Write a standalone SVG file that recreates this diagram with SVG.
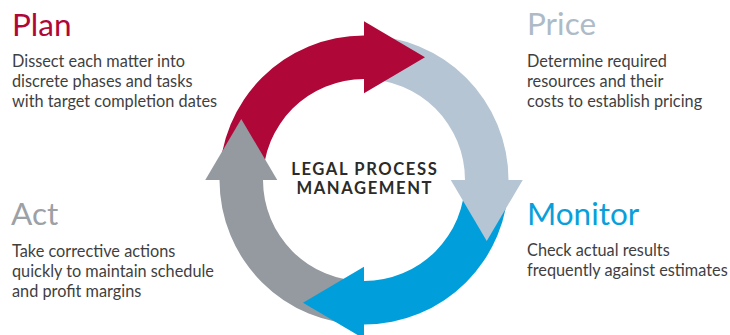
<svg xmlns="http://www.w3.org/2000/svg" width="730" height="335" viewBox="0 0 730 335">
  <style>
    .title { font-family: Lato, "Open Sans", "Liberation Sans", sans-serif; font-size: 31.5px; }
    .body { font-family: Lato, "Open Sans", "Liberation Sans", sans-serif; font-size: 16.3px; fill: #3f3f3f; }
    .center { font-family: Lato, "Open Sans", "Liberation Sans", sans-serif; font-size: 16.6px; font-weight: bold; fill: #2b2b2b; letter-spacing: 1.6px; }
    .red { fill: #af0738; }
    .pale { fill: #b6c5d3; }
    .blue { fill: #009fdb; }
    .grey { fill: #949aa0; }
  </style>
  <rect width="730" height="335" fill="#ffffff"/>

  <!-- Cycle arrows: ring centre (364,180), outer r 144.5, inner r 101 -->
  <g id="connectors">
    <!-- ring bands, one quarter each -->
    <path class="red" d="M219.5,180 A144.5,144.5 0 0 1 364,35.5 L364,79 A101,101 0 0 0 263,180 Z"/>
    <path class="pale" d="M364,35.5 A144.5,144.5 0 0 1 508.5,180 L465,180 A101,101 0 0 0 364,79 Z"/>
    <path class="blue" d="M508.5,180 A144.5,144.5 0 0 1 364,324.5 L364,281 A101,101 0 0 0 465,180 Z"/>
    <path class="grey" d="M364,324.5 A144.5,144.5 0 0 1 219.5,180 L263,180 A101,101 0 0 0 364,281 Z"/>
    <!-- arrowheads, drawn over the start of the following band -->
    <polygon class="red" points="364,21.25 425,57.25 364,93.25"/>
    <polygon class="pale" points="522.75,180 486.75,241 450.75,180"/>
    <polygon class="blue" points="364,338.75 303,302.75 364,266.75"/>
    <polygon class="grey" points="205.25,180 241.25,119 277.25,180"/>
  </g>

  <g id="center">
    <text class="center" x="364.8" y="175" text-anchor="middle">LEGAL PROCESS</text>
    <text class="center" x="364.8" y="193.5" text-anchor="middle">MANAGEMENT</text>
  </g>

  <g id="plan">
    <text class="title" x="12" y="36" fill="#af0738">Plan</text>
    <text class="body" x="12" y="66.5">Dissect each matter into</text>
    <text class="body" x="12" y="86.5">discrete phases and tasks</text>
    <text class="body" x="12" y="106.5">with target completion dates</text>
  </g>

  <g id="price">
    <text class="title" x="527" y="35" fill="#aebbc7">Price</text>
    <text class="body" x="527" y="66.5">Determine required</text>
    <text class="body" x="527" y="86.5">resources and their</text>
    <text class="body" x="527" y="106.5">costs to establish pricing</text>
  </g>

  <g id="act">
    <text class="title" x="11" y="225" fill="#9ca1a6">Act</text>
    <text class="body" x="12" y="256.5">Take corrective actions</text>
    <text class="body" x="12" y="276.5">quickly to maintain schedule</text>
    <text class="body" x="12" y="296.5">and profit margins</text>
  </g>

  <g id="monitor">
    <text class="title" x="527" y="225" fill="#089fda">Monitor</text>
    <text class="body" x="527" y="255.5">Check actual results</text>
    <text class="body" x="527" y="275.5">frequently against estimates</text>
  </g>
</svg>
